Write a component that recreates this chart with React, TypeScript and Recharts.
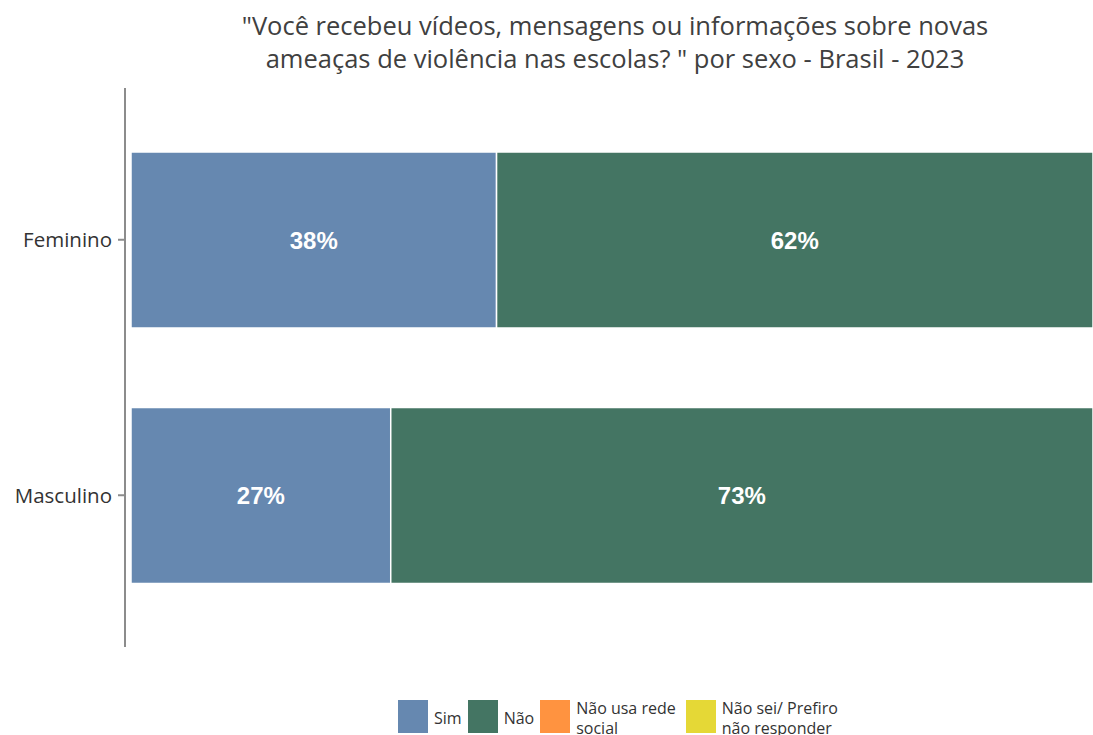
import React from "react"
import { BarChart, Bar, XAxis, YAxis, LabelList, Legend } from "recharts"

const categories = ["Feminino", "Masculino"]
const sim = [38, 27]
const nao = [62, 73]
const naoUsa = [0, 0]
const naoSei = [0, 0]

const seriesNames = ["Sim", "Não", "Não usa rede social", "Não sei/ Prefiro não responder"]
const seriesColors = ["#6688B0", "#447563", "#FF9340", "#E5D836"]
const legendLines = [["Sim"], ["Não"], ["Não usa rede", "social"], ["Não sei/ Prefiro", "não responder"]]

const data = categories.map((c, i) => ({
  sexo: c,
  sim: sim[i],
  nao: nao[i],
  naoUsa: naoUsa[i],
  naoSei: naoSei[i],
}))

const FONT = "'Open Sans', 'Noto Sans', sans-serif"
const LABEL_STYLE = { fontFamily: "'Liberation Sans', Arial, sans-serif", fontWeight: 700, fontSize: 24 }

function LegendContent() {
  return (
    <div
      style={{
        position: "absolute",
        left: 398,
        top: 0,
        display: "flex",
        alignItems: "flex-start",
        fontFamily: FONT,
        fontSize: 16,
        color: "#333",
        lineHeight: "20px",
        whiteSpace: "nowrap",
      }}
    >
      {seriesNames.map((name, i) => (
        <div key={name} style={{ display: "flex", alignItems: "flex-start", marginRight: i >= 2 ? 10 : 6 }}>
          <div style={{ width: 30, height: 33, background: seriesColors[i], marginRight: 6 }} />
          <div style={{ marginTop: legendLines[i].length > 1 ? -2 : 8 }}>
            {legendLines[i].map((l) => (
              <div key={l}>{l}</div>
            ))}
          </div>
        </div>
      ))}
    </div>
  )
}

export default function App() {
  return (
    <div style={{ position: "absolute", left: 0, top: 0, width: 1093, height: 735, background: "#fff", overflow: "hidden" }}>
      <div
        style={{
          position: "absolute",
          left: 137,
          width: 956,
          top: 9,
          textAlign: "center",
          fontFamily: FONT,
          fontSize: 25.5,
          lineHeight: "33px",
          color: "#404040",
        }}
      >
        "Você recebeu vídeos, mensagens ou informações sobre novas
        <br />
        ameaças de violência nas escolas? " por sexo - Brasil - 2023
      </div>
      <BarChart
        width={1093}
        height={735}
        data={data}
        layout="vertical"
        margin={{ top: 88, right: 0, bottom: 0, left: 0 }}
        barCategoryGap={40}
      >
        <XAxis type="number" domain={[0, 100]} hide padding={{ left: 6, right: 0 }} />
        <YAxis
          type="category"
          dataKey="sexo"
          width={125}
          padding={{ top: 24, bottom: 24 }}
          axisLine={{ stroke: "#8c8c8c", strokeWidth: 2 }}
          tickLine={{ stroke: "#8c8c8c", strokeWidth: 2 }}
          tickSize={7}
          tickMargin={6}
          tick={{ fill: "#333", fontSize: 20.5, fontFamily: FONT }}
        />
        <Legend verticalAlign="bottom" height={88} content={() => <LegendContent />} wrapperStyle={{ top: 700, left: 0, width: 1093 }} />
        <Bar dataKey="sim" stackId="a" fill={seriesColors[0]} stroke="#fff" strokeWidth={1.5} isAnimationActive={false}>
          <LabelList dataKey="sim" position="center" formatter={(v: any) => `${v}%`} fill="#fff" style={LABEL_STYLE} />
        </Bar>
        <Bar dataKey="nao" stackId="a" fill={seriesColors[1]} stroke="#fff" strokeWidth={1.5} isAnimationActive={false}>
          <LabelList dataKey="nao" position="center" formatter={(v: any) => `${v}%`} fill="#fff" style={LABEL_STYLE} />
        </Bar>
        <Bar dataKey="naoUsa" stackId="a" fill={seriesColors[2]} isAnimationActive={false} />
        <Bar dataKey="naoSei" stackId="a" fill={seriesColors[3]} isAnimationActive={false} />
      </BarChart>
    </div>
  )
}
